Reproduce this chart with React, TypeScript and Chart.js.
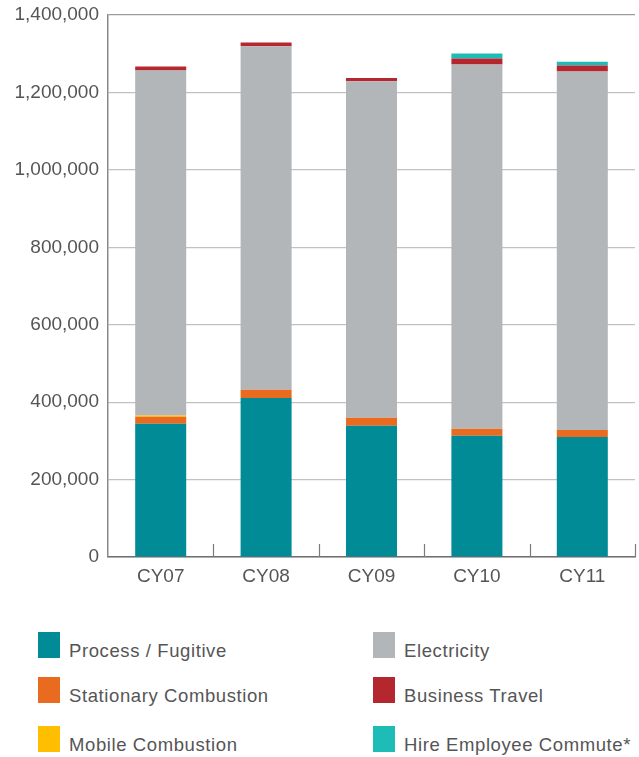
import React, { useEffect, useRef } from "react";
import { Chart, registerables } from "chart.js";

Chart.register(...registerables);

const categories = ["CY07", "CY08", "CY09", "CY10", "CY11"];
const processFugitive = [344000, 411000, 339000, 313000, 310000];
const stationaryCombustion = [18000, 21000, 21000, 18000, 18000];
const mobileCombustion = [3500, 0, 0, 0, 0];
const electricity = [891000, 887000, 869000, 941000, 926000];
const businessTravel = [10500, 10000, 8000, 15500, 15500];
const hireEmployeeCommute = [0, 0, 0, 13000, 10000];

const seriesNames = [
  "Process / Fugitive",
  "Stationary Combustion",
  "Mobile Combustion",
  "Electricity",
  "Business Travel",
  "Hire Employee Commute*",
];
const seriesColors = ["#008b96", "#e96b20", "#ffbe00", "#b2b6b9", "#b5272f", "#1dbcb7"];
const seriesData = [
  processFugitive,
  stationaryCombustion,
  mobileCombustion,
  electricity,
  businessTravel,
  hireEmployeeCommute,
];

const yTickMax = 1400000;
const yTickStep = 200000;

// legend order as in reference (two columns, row-major)
const legendOrder = [0, 3, 1, 4, 2, 5];

const FONT = "'Liberation Sans', Arial, Helvetica, sans-serif";
const TEXT = "#555555";

const upTicksPlugin = {
  id: "upTicks",
  afterDraw(chart: any) {
    const x = chart.scales.x;
    const area = chart.chartArea;
    const ctx = chart.ctx;
    const n = chart.data.labels.length;
    ctx.save();
    ctx.strokeStyle = "#7a7a7a";
    ctx.lineWidth = 1.2;
    const xs: number[] = [];
    for (let i = 0; i < n - 1; i++) {
      xs.push((x.getPixelForValue(i) + x.getPixelForValue(i + 1)) / 2);
    }
    xs.push(area.right);
    xs.forEach((px) => {
      ctx.beginPath();
      ctx.moveTo(Math.round(px) + 0.5, area.bottom - 13);
      ctx.lineTo(Math.round(px) + 0.5, area.bottom);
      ctx.stroke();
    });
    ctx.restore();
  },
};

export default function App() {
  const ref = useRef<HTMLCanvasElement | null>(null);

  useEffect(() => {
    if (!ref.current) return;
    const chart = new Chart(ref.current, {
      type: "bar",
      data: {
        labels: categories,
        datasets: seriesData.map((d, i) => ({
          label: seriesNames[i],
          data: d,
          backgroundColor: seriesColors[i],
          borderWidth: 0,
          categoryPercentage: 1,
          barPercentage: 0.484,
        })),
      },
      options: {
        responsive: false,
        maintainAspectRatio: false,
        animation: false,
        layout: { padding: { left: 0, right: 4, top: 15, bottom: 0 } },
        plugins: {
          legend: { display: false },
          tooltip: { enabled: false },
        },
        scales: {
          x: {
            stacked: true,
            grid: { display: false, drawTicks: false },
            border: { display: true, color: "#6f6f6f", width: 1.5 },
            ticks: {
              padding: 8,
              color: TEXT,
              font: { family: FONT, size: 19 },
            },
            afterFit(scale: any) {
              scale.height = 43;
            },
          },
          y: {
            stacked: true,
            min: 0,
            max: yTickMax,
            grid: {
              drawTicks: false,
              color: (ctx: any) =>
                ctx.tick && ctx.tick.value === yTickMax ? "#9c9c9c" : "#bfc1c3",
              lineWidth: 1.2,
            },
            border: { display: true, color: "#8a8a8a", width: 1.5 },
            ticks: {
              stepSize: yTickStep,
              padding: 9,
              color: TEXT,
              font: { family: FONT, size: 19 },
              callback: (v: any) => Number(v).toLocaleString("en-US"),
            },
            afterFit(scale: any) {
              scale.width = 108;
              scale.paddingTop = 0;
              scale.paddingBottom = 0;
            },
          },
        },
      },
      plugins: [upTicksPlugin],
    });
    return () => chart.destroy();
  }, []);

  const colLeft = [38, 373];
  const rowTop = [632, 677, 726];

  return (
    <div
      style={{
        position: "absolute",
        left: 0,
        top: 0,
        width: 639,
        height: 757,
        background: "#ffffff",
        overflow: "hidden",
        fontFamily: FONT,
      }}
    >
      <canvas ref={ref} width={639} height={600} style={{ display: "block" }} />
      {legendOrder.map((si, k) => {
        const col = k % 2;
        const row = Math.floor(k / 2);
        return (
          <div
            key={si}
            style={{
              position: "absolute",
              left: colLeft[col],
              top: rowTop[row],
              display: "flex",
              alignItems: "center",
              whiteSpace: "nowrap",
            }}
          >
            <div style={{ width: 22, height: 26, background: seriesColors[si] }} />
            <span
              style={{
                marginLeft: 9,
                fontSize: 18.5,
                letterSpacing: "0.6px",
                color: TEXT,
                position: "relative",
                top: 6,
                lineHeight: "20px",
              }}
            >
              {seriesNames[si]}
            </span>
          </div>
        );
      })}
    </div>
  );
}
